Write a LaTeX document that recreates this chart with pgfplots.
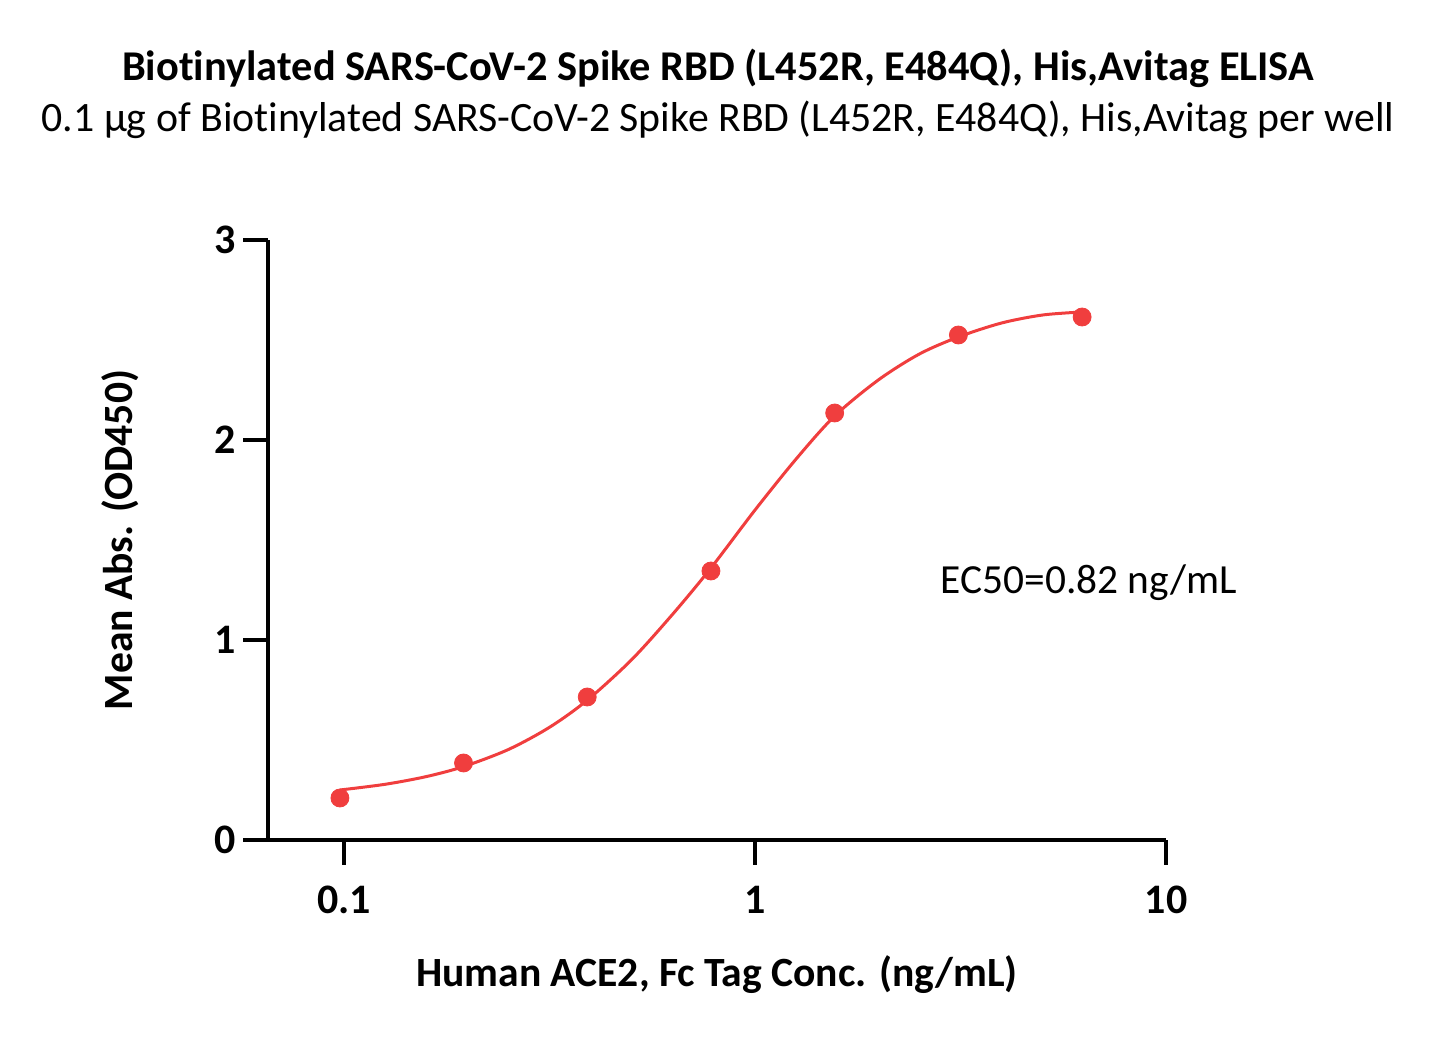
\documentclass[border=0pt]{standalone}
\usepackage{fontspec}
\setmainfont{Carlito}[Ligatures={NoCommon}]
\usepackage{pgfplots}
\pgfplotsset{compat=1.18}
\definecolor{cred}{RGB}{240,62,62}
\begin{document}
\begin{tikzpicture}
\useasboundingbox (0,0) rectangle (718.5pt,522pt);
\node[font=\fontsize{21.2}{24}\selectfont\bfseries] at (359pt,488pt) {Biotinylated SARS-CoV-2 Spike RBD (L452R, E484Q), His,Avitag ELISA};
\node[font=\fontsize{20.9}{24}\selectfont] at (359pt,462pt) {0.1 μg of Biotinylated SARS-CoV-2 Spike RBD (L452R, E484Q), His,Avitag per well};
\begin{axis}[
  at={(134pt,102pt)}, anchor=south west,
  scale only axis, width=449pt, height=300pt,
  xmode=log, xmin=0.0653, xmax=10, ymin=0, ymax=3,
  axis x line*=bottom, axis y line*=left,
  axis line style={-, line width=2pt},
  every tick/.style={black, line width=2pt},
  tick align=outside, major tick length=12.5pt,
  xminorticks=false, yminorticks=false,
  xtick={0.1,1,10}, xticklabels={0.1,1,10},
  ytick={0,1,2,3}, yticklabels={0,1,2,3},
  tick label style={font=\fontsize{21}{24}\selectfont\bfseries},
  xticklabel style={yshift=-7pt},
  /pgf/number format/assume math mode=true,
  xlabel={Human ACE2, Fc Tag Conc. (ng/mL)},
  ylabel={Mean Abs. (OD450)},
  label style={font=\fontsize{20.8}{24}\selectfont\bfseries},
  xlabel style={at={(axis description cs:0.5,-0.225)}, anchor=center},
  ylabel style={at={(axis description cs:-0.165,0.5)}, anchor=center, rotate=0},
  clip=false,
]
\addplot[cred, line width=1.5pt, smooth, no marks] coordinates {
(0.0977,0.250) (0.1259,0.2785) (0.1585,0.317) (0.1953,0.367) (0.2512,0.4526)
(0.3162,0.5636) (0.3906,0.699) (0.5012,0.902) (0.6310,1.130) (0.78125,1.360)
(1.0,1.650) (1.2589,1.905) (1.5625,2.120) (1.9953,2.300) (2.5119,2.430)
(3.125,2.515) (3.9811,2.585) (5.0119,2.625) (6.25,2.640)
};
\addplot[only marks, mark=*, mark size=4.5pt, color=cred, mark options={fill=cred, draw=cred}] coordinates {
(0.0977,0.210) (0.1953,0.385) (0.3906,0.715) (0.78125,1.345) (1.5625,2.135) (3.125,2.525) (6.25,2.615)
};
\node[anchor=west, font=\fontsize{20.7}{24}\selectfont] at (axis cs:2.72,1.285) {EC50=0.82 ng/mL};
\end{axis}
\end{tikzpicture}
\end{document}
